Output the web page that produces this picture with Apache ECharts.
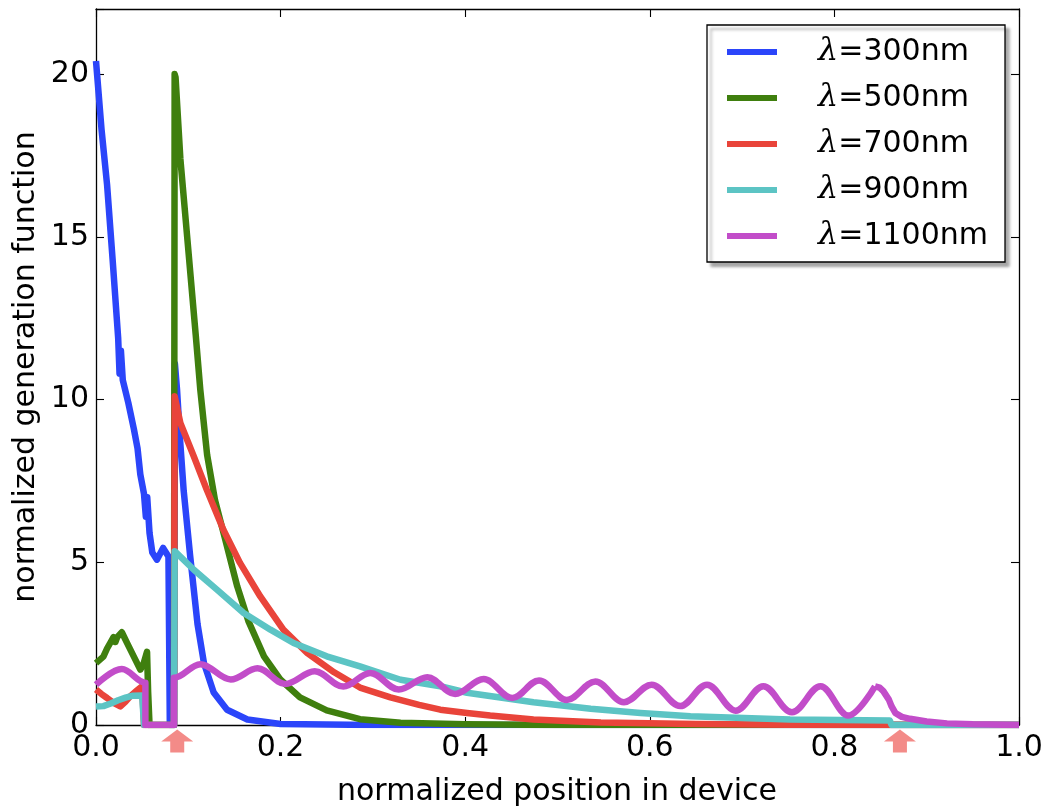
<!DOCTYPE html>
<html><head><meta charset="utf-8">
<script src="https://cdn.jsdelivr.net/npm/echarts@6/dist/echarts.min.js"></script>
<style>html,body{margin:0;padding:0;background:#fff}#c{width:1053px;height:810px}</style>
</head><body><div id="c"></div>
<script>
// ---- data ----
const seriesNames = ['λ=300nm', 'λ=500nm', 'λ=700nm', 'λ=900nm', 'λ=1100nm'];
const xTickLabels = ['0.0', '0.2', '0.4', '0.6', '0.8', '1.0'];
const yTickLabels = [0, 5, 10, 15, 20];
const arrowX = [0.088, 0.871];

const blueX = [0, 0.006, 0.012, 0.018, 0.024, 0.0255, 0.027, 0.029, 0.035, 0.041, 0.045, 0.048, 0.052, 0.054, 0.0555, 0.058, 0.061, 0.066, 0.0727, 0.0785, 0.080, 0.0845, 0.0855, 0.0878, 0.091, 0.095, 0.102, 0.110, 0.117, 0.1275, 0.142, 0.164, 0.200, 0.300, 1.0];
const blueY = [20.4, 18.3, 16.6, 14.3, 11.9, 10.8, 11.5, 10.6, 9.9, 9.1, 8.5, 7.7, 7.1, 6.4, 7.0, 5.9, 5.3, 5.08, 5.44, 5.18, 0, 0, 11.1, 10.3, 8.8, 7.2, 5.2, 3.1, 1.9, 1.0, 0.47, 0.17, 0.03, 0, 0];

const greenX = [0, 0.004, 0.008, 0.012, 0.016, 0.019, 0.021, 0.023, 0.028, 0.034, 0.041, 0.048, 0.0517, 0.0553, 0.0565, 0.058, 0.0845, 0.0852, 0.0862, 0.0914, 0.100, 0.108, 0.113, 0.1204, 0.129, 0.140, 0.153, 0.165, 0.182, 0.200, 0.221, 0.250, 0.286, 0.330, 0.400, 0.500, 1.0];
const greenY = [1.9, 2.0, 2.1, 2.35, 2.55, 2.7, 2.55, 2.7, 2.85, 2.5, 2.1, 1.7, 1.9, 2.25, 1.0, 0, 0, 20.0, 19.9, 17.4, 14.6, 12.0, 10.3, 8.3, 6.9, 5.7, 4.26, 3.2, 2.11, 1.39, 0.85, 0.45, 0.18, 0.07, 0.02, 0, 0];

const redX = [0, 0.006, 0.012, 0.019, 0.0264, 0.032, 0.037, 0.044, 0.050, 0.052, 0.0845, 0.0852, 0.0914, 0.106, 0.120, 0.138, 0.156, 0.178, 0.203, 0.229, 0.258, 0.286, 0.319, 0.350, 0.373, 0.402, 0.427, 0.474, 0.547, 0.650, 0.750, 1.0];
const redY = [1.09, 0.95, 0.83, 0.68, 0.57, 0.72, 0.88, 1.05, 1.19, 0, 0, 10.1, 9.28, 8.25, 7.23, 6.0, 4.98, 3.95, 2.93, 2.21, 1.62, 1.15, 0.85, 0.62, 0.47, 0.37, 0.29, 0.17, 0.08, 0.03, 0.01, 0];

const cyanX = [0, 0.008, 0.016, 0.024, 0.032, 0.040, 0.050, 0.052, 0.0845, 0.0852, 0.106, 0.131, 0.160, 0.189, 0.214, 0.250, 0.286, 0.330, 0.373, 0.402, 0.474, 0.536, 0.590, 0.644, 0.752, 0.860, 0.862, 1.0];
const cyanY = [0.57, 0.58, 0.66, 0.76, 0.84, 0.9, 0.91, 0, 0, 5.34, 4.77, 4.16, 3.44, 2.93, 2.52, 2.11, 1.80, 1.39, 1.19, 0.99, 0.70, 0.50, 0.37, 0.27, 0.17, 0.14, 0, 0];

// magenta: oscillating part (peaks and troughs) and the tail after the last peak
const magX = [0, 0.028, 0.0535, 0.0535, 0.0845, 0.0845, 0.113, 0.146, 0.175, 0.205, 0.237, 0.268, 0.297, 0.328, 0.359, 0.389, 0.420, 0.451, 0.480, 0.510, 0.541, 0.572, 0.602, 0.633, 0.662, 0.693, 0.723, 0.754, 0.785, 0.815, 0.844];
const magY = [1.24, 1.72, 1.30, 0, 0, 1.45, 1.87, 1.40, 1.74, 1.26, 1.65, 1.18, 1.60, 1.09, 1.47, 0.95, 1.41, 0.83, 1.37, 0.77, 1.34, 0.70, 1.24, 0.58, 1.24, 0.44, 1.19, 0.39, 1.19, 0.29, 1.19];
const magTailX = [0.844, 0.849, 0.853, 0.859, 0.862, 0.866, 0.873, 0.882, 0.900, 0.922, 0.950, 1.0];
const magTailY = [1.19, 1.15, 1.04, 0.78, 0.57, 0.37, 0.25, 0.19, 0.11, 0.05, 0.02, 0];

// ---- styling ----
const colors = ['#2b45fa', '#3f7f0e', '#e9443a', '#5cc4c4', '#c24dc9'];
const FONT = 'DejaVu Sans';
const zip = (xs, ys) => xs.map((x, i) => [x, ys[i]]);

function lineSeries(name, color, data, extra) {
  return Object.assign({
    type: 'line', name: name, data: data, showSymbol: false, symbol: 'none',
    color: color, itemStyle: { color: color },
    lineStyle: { color: color, width: 6.5, join: 'round' },
    xAxisIndex: 0, yAxisIndex: 0, animation: false, silent: true,
    emphasis: { disabled: true }
  }, extra || {});
}

const frameLine = { show: true, onZero: false, lineStyle: { color: '#000', width: 1.3 } };
const tick = { show: true, inside: true, length: 8, lineStyle: { color: '#000', width: 1.1 } };

const option = {
  backgroundColor: '#fff',
  animation: false,
  grid: { left: 96, right: 34, top: 9, bottom: 85, containLabel: false, outerBoundsMode: 'none' },
  xAxis: [
    { type: 'value', min: 0, max: 1, interval: 0.2, position: 'bottom',
      axisLine: frameLine, axisTick: tick, splitLine: { show: false },
      axisLabel: { color: '#000', fontFamily: FONT, fontSize: 30, margin: 8,
        formatter: v => xTickLabels[Math.round(v / 0.2)] } },
    { type: 'value', min: 0, max: 1, interval: 0.2, position: 'top',
      axisLine: frameLine, axisTick: tick, splitLine: { show: false }, axisLabel: { show: false } }
  ],
  yAxis: [
    { type: 'value', min: 0, max: 22, interval: 5, position: 'left',
      axisLine: frameLine, axisTick: tick, splitLine: { show: false },
      axisLabel: { color: '#000', fontFamily: FONT, fontSize: 30, margin: 7,
        formatter: v => (yTickLabels.indexOf(v) >= 0 ? String(v) : '') } },
    { type: 'value', min: 0, max: 22, interval: 5, position: 'right',
      axisLine: frameLine, axisTick: tick, splitLine: { show: false }, axisLabel: { show: false } }
  ],
  legend: {
    data: seriesNames,
    orient: 'vertical', left: 707, top: 25,
    padding: [11, 17, 10, 20],
    itemGap: 14, itemWidth: 50, itemHeight: 6, icon: 'rect',
    backgroundColor: '#fff', borderColor: '#000', borderWidth: 1.3, borderRadius: 0,
    shadowColor: 'rgba(0,0,0,0.35)', shadowBlur: 3, shadowOffsetX: 4, shadowOffsetY: 4,
    selectedMode: false,
    formatter: n => '{l|λ}{t|' + n.slice(1) + '}',
    textStyle: {
      padding: [0, 0, 0, 36],
      rich: {
        l: { fontFamily: 'DejaVu Serif', fontStyle: 'italic', fontSize: 32, lineHeight: 34, color: '#000' },
        t: { fontFamily: FONT, fontSize: 30, lineHeight: 34, color: '#000' }
      }
    }
  },
  graphic: [
    { type: 'text', x: 557, y: 792, silent: true,
      style: { text: 'normalized position in device', font: '30px "DejaVu Sans"', fill: '#000',
        textAlign: 'center', textVerticalAlign: 'middle' } },
    { type: 'text', x: 26, y: 367, rotation: Math.PI / 2, silent: true,
      style: { text: 'normalized generation function', font: '30px "DejaVu Sans"', fill: '#000',
        textAlign: 'center', textVerticalAlign: 'middle' } }
  ],
  series: [
    lineSeries(seriesNames[0], colors[0], zip(blueX, blueY)),
    lineSeries(seriesNames[1], colors[1], zip(greenX, greenY)),
    lineSeries(seriesNames[2], colors[2], zip(redX, redY)),
    lineSeries(seriesNames[3], colors[3], zip(cyanX, cyanY)),
    lineSeries(seriesNames[4], colors[4], zip(magX, magY), { smooth: 0.36, smoothMonotone: 'x' }),
    lineSeries(seriesNames[4], colors[4], zip(magTailX, magTailY)),
    { type: 'scatter', name: 'arrows', data: arrowX.map(x => [x, 0]),
      symbol: 'path://M16,0L32,12L23,12L23,23L9,23L9,12L0,12Z',
      symbolSize: [32, 23], symbolOffset: [0, 16], clip: false, silent: true, z: 20,
      itemStyle: { color: '#f06e6a' }, emphasis: { disabled: true }, animation: false }
  ]
};

const chart = echarts.init(document.getElementById('c'), null, { renderer: 'canvas' });
chart.setOption(option);
</script>
</body></html>
